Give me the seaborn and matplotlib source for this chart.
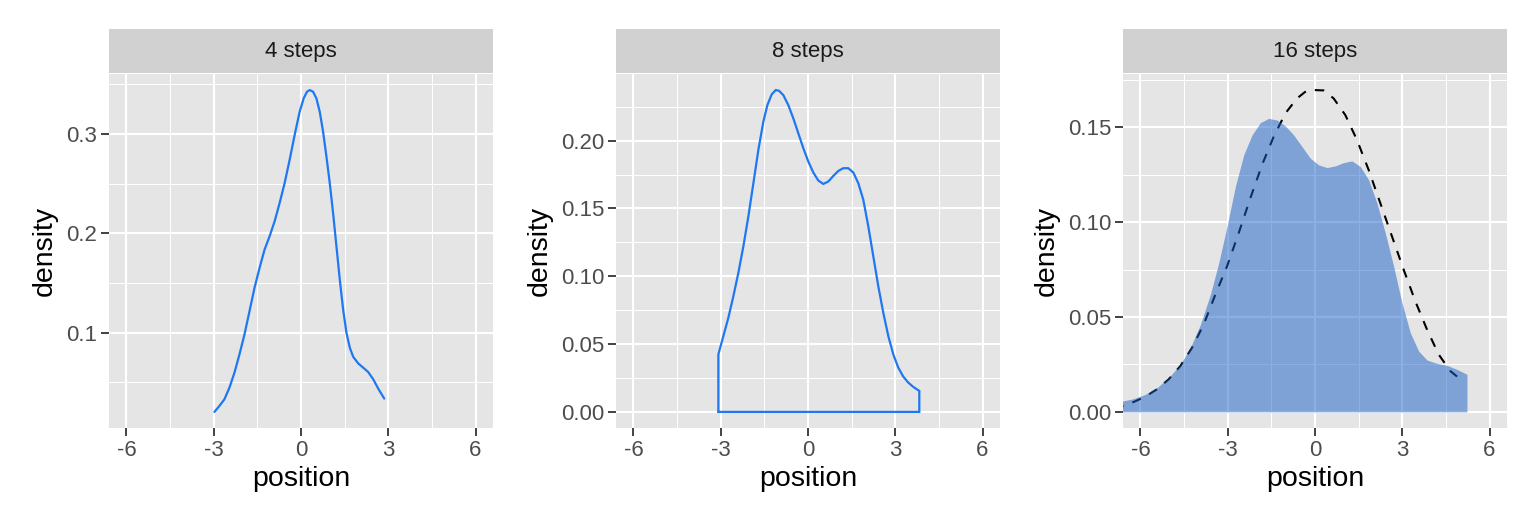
import numpy as np
import pandas as pd
import matplotlib
matplotlib.use("Agg")
import matplotlib.pyplot as plt
import seaborn as sns
from matplotlib.ticker import FixedLocator, FormatStrFormatter

# ---- data ----
panel_titles = ["4 steps", "8 steps", "16 steps"]

x4 = [-2.977, -2.805, -2.632, -2.460, -2.287, -2.115, -1.943, -1.770, -1.598, -1.425,
      -1.253, -1.080, -0.908, -0.736, -0.563, -0.391, -0.218, -0.046, 0.092, 0.207,
      0.299, 0.414, 0.529, 0.644, 0.759, 0.874, 0.989, 1.103, 1.218, 1.333, 1.448,
      1.563, 1.678, 1.793, 1.966, 2.138, 2.310, 2.483, 2.655, 2.862]
y4 = [0.0204, 0.0264, 0.0331, 0.0448, 0.0599, 0.0783, 0.0983, 0.1217, 0.1452, 0.1652,
      0.1836, 0.1970, 0.2120, 0.2304, 0.2505, 0.2739, 0.2990, 0.3224, 0.3358, 0.3425,
      0.3441, 0.3425, 0.3358, 0.3224, 0.3023, 0.2773, 0.2505, 0.2204, 0.1870, 0.1535, 0.1234,
      0.1000, 0.0849, 0.0759, 0.0692, 0.0649, 0.0605, 0.0532, 0.0438, 0.0338]

x8 = [-3.081, -2.910, -2.738, -2.566, -2.394, -2.222, -2.050, -1.878, -1.707, -1.535,
      -1.397, -1.249, -1.111, -0.997, -0.848, -0.676, -0.504, -0.332, -0.160, 0.011,
      0.183, 0.355, 0.527, 0.699, 0.871, 1.042, 1.214, 1.386, 1.558, 1.730, 1.901,
      2.073, 2.245, 2.417, 2.589, 2.761, 2.932, 3.104, 3.276, 3.448, 3.620, 3.826]
y8 = [0.0424, 0.0559, 0.0694, 0.0853, 0.1025, 0.1221, 0.1441, 0.1686, 0.1931, 0.2140,
      0.2262, 0.2341, 0.2373, 0.2368, 0.2336, 0.2262, 0.2164, 0.2054, 0.1944, 0.1846,
      0.1765, 0.1706, 0.1681, 0.1699, 0.1740, 0.1777, 0.1797, 0.1797, 0.1765, 0.1686, 0.1564,
      0.1368, 0.1147, 0.0926, 0.0730, 0.0559, 0.0424, 0.0326, 0.0260, 0.0216, 0.0184, 0.0155]

x16 = [-6.9, -6.598, -6.231, -5.830, -5.430, -5.029, -4.628, -4.284, -3.940, -3.597, -3.310,
       -3.024, -2.738, -2.451, -2.165, -1.879, -1.592, -1.306, -1.019, -0.733, -0.447,
       -0.160, 0.126, 0.412, 0.699, 0.985, 1.271, 1.558, 1.844, 2.131, 2.417, 2.703,
       2.990, 3.276, 3.562, 3.849, 4.192, 4.536, 4.880, 5.223]
y16 = [0.0050, 0.00578, 0.00701, 0.00929, 0.01279, 0.01805, 0.02506, 0.03382, 0.04609, 0.06186, 0.07850,
       0.09778, 0.11880, 0.13545, 0.14596, 0.15244, 0.15472, 0.15384, 0.15069, 0.14596, 0.13983,
       0.13370, 0.13019, 0.12879, 0.12967, 0.13142, 0.13230, 0.12932, 0.12231, 0.11004, 0.09427, 0.07675,
       0.05748, 0.04171, 0.03207, 0.02734, 0.02559, 0.02453, 0.02243, 0.01980]

xn = [-6.9, -6.598, -6.231, -5.830, -5.430, -5.029, -4.628, -4.227, -3.826, -3.425, -3.024,
      -2.623, -2.222, -1.821, -1.420, -1.019, -0.619, -0.275, 0.0, 0.298, 0.641, 1.042,
      1.443, 1.844, 2.245, 2.646, 3.047, 3.448, 3.849, 4.250, 4.651, 4.971]
yn = [0.0024, 0.00315, 0.00526, 0.00806, 0.01192, 0.01717, 0.02418, 0.03382, 0.04609, 0.06186, 0.07675,
      0.09427, 0.11267, 0.13019, 0.14508, 0.15735, 0.16524, 0.16944, 0.16962, 0.16944, 0.16524, 0.15647,
      0.14333, 0.12756, 0.11004, 0.09252, 0.07500, 0.05835, 0.04346, 0.03031, 0.02155, 0.01752]

x_limits = [-6, 6]
x_ticks = [-6, -3, 0, 3, 6]
x_minor = [-4.5, -1.5, 1.5, 4.5]
y_ticks = [[0.1, 0.2, 0.3], [0.0, 0.05, 0.10, 0.15, 0.20], [0.0, 0.05, 0.10, 0.15]]
y_minor = [[0.05, 0.15, 0.25, 0.35], [0.025, 0.075, 0.125, 0.175, 0.225], [0.025, 0.075, 0.125, 0.175]]
y_fmt = ["%.1f", "%.2f", "%.2f"]

line_color = "#1F77F2"
fill_color = "#1961C9"

# ---- style ----
sns.set_theme(style="darkgrid")
plt.rcParams["font.family"] = ["Liberation Sans", "DejaVu Sans"]
panel_bg = "#E5E5E5"
strip_bg = "#D1D1D1"

W, H = 1536, 528
fig = plt.figure(figsize=(W / 100, H / 100), dpi=100)
lefts = [109, 616, 1123]
ax_w, ax_top, ax_bot = 384, 74, 428
strip_top = 29

def expand(lo, hi, f=0.05):
    d = (hi - lo) * f
    return lo - d, hi + d

axes = []
for i, L in enumerate(lefts):
    ax = fig.add_axes([L / W, (H - ax_bot) / H, ax_w / W, (ax_bot - ax_top) / H])
    ax.set_facecolor(panel_bg)
    for s in ax.spines.values():
        s.set_visible(False)
    ax.set_axisbelow(True)
    ax.grid(False)
    # strip
    sax = fig.add_axes([L / W, (H - ax_top + 1) / H, ax_w / W, (ax_top - 1 - strip_top) / H])
    sax.set_facecolor(strip_bg)
    sax.set_xticks([]); sax.set_yticks([])
    for s in sax.spines.values():
        s.set_visible(False)
    sax.text(0.5, 0.5, panel_titles[i], ha="center", va="center", fontsize=16,
             color="#1A1A1A", transform=sax.transAxes)
    axes.append(ax)

# panel 1: plain density line
df4 = pd.DataFrame({"position": x4, "density": y4})
sns.lineplot(data=df4, x="position", y="density", ax=axes[0], color=line_color,
             linewidth=1.6, sort=False, estimator=None, zorder=3)
ylo1, yhi1 = expand(min(y4), max(y4))

# panel 2: full outline of density
xo = [x8[0]] + x8 + [x8[-1], x8[0]]
yo = [0.0] + y8 + [0.0, 0.0]
df8 = pd.DataFrame({"position": xo, "density": yo})
sns.lineplot(data=df8, x="position", y="density", ax=axes[1], color=line_color,
             linewidth=1.6, sort=False, estimator=None, zorder=3)
axes[1].lines[-1].set_solid_joinstyle("miter")
ylo2, yhi2 = expand(0.0, max(y8))

# panel 3: normal reference (dashed) under a filled density
dfn = pd.DataFrame({"position": xn, "density": yn})
sns.lineplot(data=dfn, x="position", y="density", ax=axes[2], color="black",
             linewidth=1.5, sort=False, estimator=None, zorder=2)
axes[2].lines[-1].set_dashes([4.5, 4.5])
axes[2].fill_between(x16, 0, y16, color=fill_color, alpha=0.5, linewidth=0, zorder=3)
ylo3, yhi3 = expand(0.0, max(max(y16), max(yn)))

ylims = [(ylo1, yhi1), (ylo2, yhi2), (ylo3, yhi3)]
xlo, xhi = expand(*x_limits)

for i, ax in enumerate(axes):
    ax.set_xlim(xlo, xhi)
    ax.set_ylim(*ylims[i])
    for v in x_minor:
        ax.axvline(v, color="white", linewidth=0.75, zorder=0.5)
    for v in x_ticks:
        ax.axvline(v, color="white", linewidth=1.5, zorder=0.6)
    for v in y_minor[i]:
        ax.axhline(v, color="white", linewidth=0.75, zorder=0.5)
    for v in y_ticks[i]:
        ax.axhline(v, color="white", linewidth=1.5, zorder=0.6)
    ax.xaxis.set_major_locator(FixedLocator(x_ticks))
    ax.yaxis.set_major_locator(FixedLocator(y_ticks[i]))
    ax.yaxis.set_major_formatter(FormatStrFormatter(y_fmt[i]))
    ax.set_xticklabels([str(v) for v in x_ticks])
    ax.tick_params(axis="both", which="major", length=5.5, width=1.3, color="#333333",
                   labelsize=16, labelcolor="#4D4D4D", pad=3, bottom=True, left=True)
    ax.set_xlabel("position", fontsize=20.5, color="black", labelpad=4)
    ax.set_ylabel("density", fontsize=20.5, color="black", labelpad=6)

fig.savefig("out.png", dpi=100, facecolor="white")
